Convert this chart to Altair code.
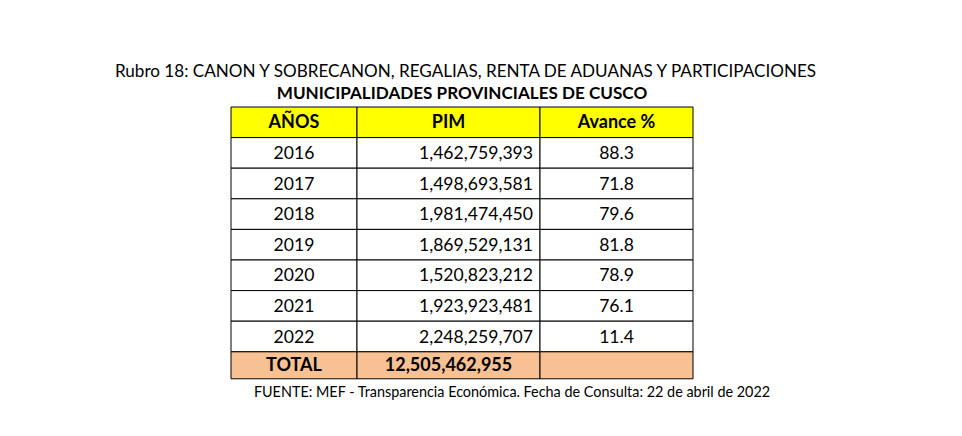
import altair as alt
import pandas as pd

# ---- data ----
title_line1 = "Rubro 18: CANON Y SOBRECANON, REGALIAS, RENTA DE ADUANAS Y PARTICIPACIONES"
title_line2 = "MUNICIPALIDADES PROVINCIALES DE CUSCO"
footer_text = "FUENTE: MEF - Transparencia Económica. Fecha de Consulta: 22 de abril de 2022"
headers = ["AÑOS", "PIM", "Avance %"]
years = ["2016", "2017", "2018", "2019", "2020", "2021", "2022"]
pim = [1462759393, 1498693581, 1981474450, 1869529131, 1520823212, 1923923481, 2248259707]
avance = [88.3, 71.8, 79.6, 81.8, 78.9, 76.1, 11.4]
total_label = "TOTAL"
total_pim = 12505462955

# ---- layout ----
FONT = "Lato"
COL_W = [126, 183, 153]
HEAD_H = 30.6
ROW_H = 30.6
TOT_H = 27
RIGHT_PAD = 7
TW = sum(COL_W)
row_heights = [HEAD_H] + [ROW_H] * len(years) + [TOT_H]
TH = sum(row_heights)

col_x = [0]
for w in COL_W:
    col_x.append(col_x[-1] + w)
row_y = [0]
for h in row_heights:
    row_y.append(row_y[-1] + h)

rows = [("header", headers, ["c", "c", "c"], True)]
for y, p, a in zip(years, pim, avance):
    rows.append(("body", [y, f"{p:,}", f"{a:.1f}"], ["c", "r", "c"], False))
rows.append(("total", [total_label, f"{total_pim:,}", ""], ["c", "c", "c"], True))

recs = []
for ri, (kind, texts, aligns, bold) in enumerate(rows):
    for ci in range(3):
        x0, x1 = col_x[ci], col_x[ci + 1]
        tx = (x0 + x1) / 2 if aligns[ci] == "c" else x1 - RIGHT_PAD
        recs.append(dict(kind=kind, x0=x0, x1=x1, y0=row_y[ri], y1=row_y[ri + 1],
                         ym=(row_y[ri] + row_y[ri + 1]) / 2, tx=tx, text=texts[ci],
                         align=aligns[ci], bold=bold))
df = pd.DataFrame(recs)

xs = alt.Scale(domain=[0, TW], nice=False, zero=False)
ys = alt.Scale(domain=[0, TH], nice=False, zero=False, reverse=True)

base = alt.Chart(df)
cells = base.mark_rect(stroke="black", strokeWidth=1).encode(
    x=alt.X("x0:Q", scale=xs, axis=None), x2="x1:Q",
    y=alt.Y("y0:Q", scale=ys, axis=None), y2="y1:Q",
    fill=alt.Fill("kind:N", scale=alt.Scale(domain=["header", "body", "total"],
                                            range=["#FFFF00", "#FFFFFF", "#F8C193"]),
                  legend=None),
)

def txt(filt, align, weight, size):
    return base.transform_filter(filt).mark_text(
        font=FONT, fontSize=size, align=align, baseline="middle", fontWeight=weight,
        color="black", dy=1,
    ).encode(
        x=alt.X("tx:Q", scale=xs, axis=None),
        y=alt.Y("ym:Q", scale=ys, axis=None),
        text="text:N",
    )

t_c_norm = txt("datum.align == 'c' && !datum.bold", "center", "normal", 17.6)
t_r_norm = txt("datum.align == 'r' && !datum.bold", "right", "normal", 17.6)
t_c_bold = txt("datum.align == 'c' && datum.bold", "center", "bold", 18)

t1 = alt.Chart(pd.DataFrame({"t": [title_line1]})).mark_text(
    font=FONT, fontSize=17.1, align="center", baseline="middle", color="black"
).encode(x=alt.value(234.5), y=alt.value(-35), text="t:N")
t2 = alt.Chart(pd.DataFrame({"t": [title_line2]})).mark_text(
    font=FONT, fontSize=17.1, fontWeight="bold", align="center", baseline="middle", color="black"
).encode(x=alt.value(231), y=alt.value(-13), text="t:N")
t3 = alt.Chart(pd.DataFrame({"t": [footer_text]})).mark_text(
    font=FONT, fontSize=14.4, align="center", baseline="middle", color="black"
).encode(x=alt.value(281), y=alt.value(286), text="t:N")

chart = alt.layer(cells, t_c_norm, t_r_norm, t_c_bold, t1, t2, t3).properties(
    width=TW, height=TH,
    autosize=alt.AutoSizeParams(type="none"),
    padding={"left": 223, "top": 99, "right": 946 - 223 - TW, "bottom": 420 - 99 - TH},
    background="white",
).configure_view(stroke=None)

chart.save("out.html", embed_options={"renderer": "svg", "actions": False})
